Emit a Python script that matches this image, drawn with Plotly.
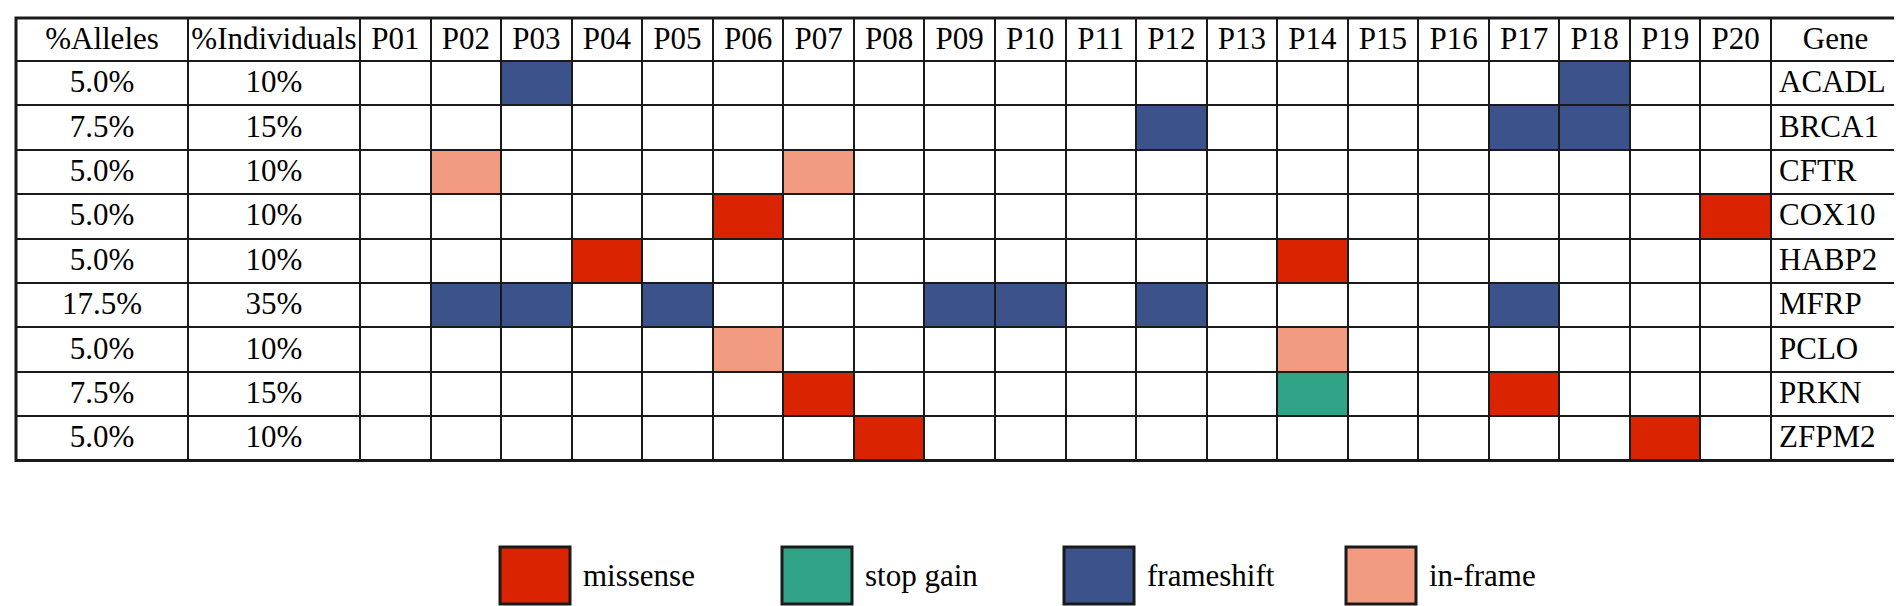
import plotly.graph_objects as go

# gene rows, top to bottom
genes = ["ACADL", "BRCA1", "CFTR", "COX10", "HABP2", "MFRP", "PCLO", "PRKN", "ZFPM2"]
pct_alleles = [5.0, 7.5, 5.0, 5.0, 5.0, 17.5, 5.0, 7.5, 5.0]
pct_individuals = [10, 15, 10, 10, 10, 35, 10, 15, 10]
patients = ["P%02d" % i for i in range(1, 21)]

# one entry per variant found: gene, patient, type
var_gene = ["ACADL", "ACADL",
            "BRCA1", "BRCA1", "BRCA1",
            "CFTR", "CFTR",
            "COX10", "COX10",
            "HABP2", "HABP2",
            "MFRP", "MFRP", "MFRP", "MFRP", "MFRP", "MFRP", "MFRP",
            "PCLO", "PCLO",
            "PRKN", "PRKN", "PRKN",
            "ZFPM2", "ZFPM2"]
var_patient = ["P03", "P18",
               "P12", "P17", "P18",
               "P02", "P07",
               "P06", "P20",
               "P04", "P14",
               "P02", "P03", "P05", "P09", "P10", "P12", "P17",
               "P06", "P14",
               "P07", "P14", "P17",
               "P08", "P19"]
var_type = ["frameshift", "frameshift",
            "frameshift", "frameshift", "frameshift",
            "in-frame", "in-frame",
            "missense", "missense",
            "missense", "missense",
            "frameshift", "frameshift", "frameshift", "frameshift",
            "frameshift", "frameshift", "frameshift",
            "in-frame", "in-frame",
            "missense", "stop gain", "missense",
            "missense", "missense"]

legend_labels = ["missense", "stop gain", "frameshift", "in-frame"]
legend_colors = ["#DA2300", "#30A286", "#3B528B", "#F29B80"]
type_color = dict(zip(legend_labels, legend_colors))

W, H = 1902, 606
FONT = "'Liberation Serif', 'Times New Roman', 'DejaVu Serif', serif"
LINE = "#1a1a1a"

# fill colours, one list per column
fills = [["white"] * len(genes) for _ in patients]
for g, p, t in zip(var_gene, var_patient, var_type):
    fills[patients.index(p)][genes.index(g)] = type_color[t]

cell_values = ([["%.1f%%" % a for a in pct_alleles],
                ["%d%%" % b for b in pct_individuals]]
               + [[""] * len(genes) for _ in patients]
               + [genes])
cell_fill = [["white"] * len(genes)] * 2 + fills + [["white"] * len(genes)]

left, right, top = 8, 1892, 10

fig = go.Figure(go.Table(
    domain=dict(x=[left / W, right / W], y=[0, 1 - top / H]),
    columnwidth=[172, 172] + [70.55] * len(patients) + [129],
    header=dict(values=["%Alleles", "%Individuals"] + patients + ["Gene"],
                align="center", height=43,
                line=dict(color=LINE, width=2), fill=dict(color="white"),
                font=dict(family=FONT, size=31, color="black")),
    cells=dict(values=cell_values,
               align=["center"] * (2 + len(patients)) + ["left"],
               height=44.4,
               line=dict(color=LINE, width=2), fill=dict(color=cell_fill),
               font=dict(family=FONT, size=31, color="black")),
))

# outer frame of the table
bottom = top + 43 + 44.4 * len(genes)
fig.add_shape(type="rect", xref="paper", yref="paper",
              x0=left / W, x1=right / W, y0=1 - bottom / H, y1=1 - top / H,
              line=dict(color=LINE, width=3), layer="above")

# legend boxes under the table
box_x0, box_step, box_w = 492, 282, 70
box_y0, box_y1 = 539, 596
for i, (lab, col) in enumerate(zip(legend_labels, legend_colors)):
    x0 = box_x0 + i * box_step
    fig.add_shape(type="rect", xref="paper", yref="paper",
                  x0=x0 / W, x1=(x0 + box_w) / W,
                  y0=1 - box_y1 / H, y1=1 - box_y0 / H,
                  fillcolor=col, line=dict(color=LINE, width=3))
    fig.add_annotation(x=(x0 + box_w + 11) / W, y=1 - (box_y0 + box_y1) / 2 / H,
                       xref="paper", yref="paper", xanchor="left", yanchor="middle",
                       text=lab, showarrow=False,
                       font=dict(family=FONT, size=31, color="black"))

fig.update_layout(width=W, height=H, margin=dict(l=0, r=0, t=0, b=0),
                  paper_bgcolor="white", plot_bgcolor="white")

fig.write_html("out.html")
